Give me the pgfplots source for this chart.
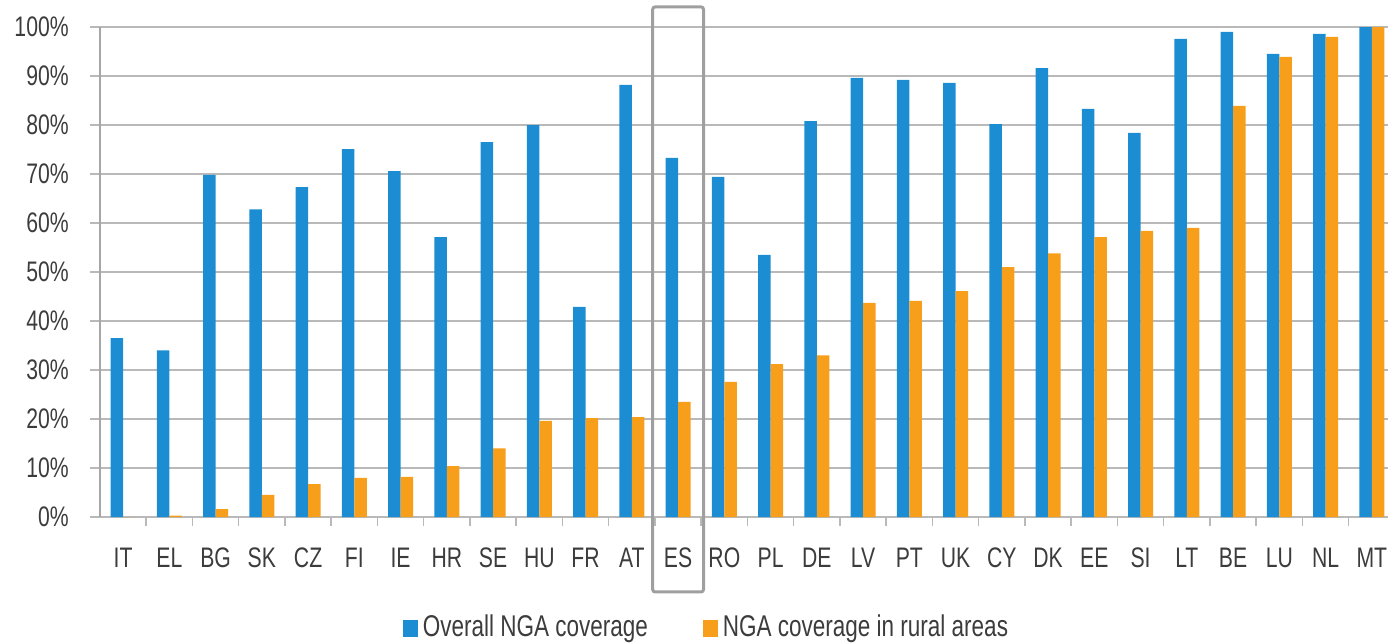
\documentclass[border=0pt]{standalone}
\usepackage{fontspec}
\setmainfont{Liberation Sans}[FakeStretch=0.75]
\usepackage{pgfplots}
\usepackage{pgfplotstable}
\pgfplotsset{compat=1.18}
\usetikzlibrary{calc}

\definecolor{ngablue}{RGB}{28,141,210}
\definecolor{ngaorange}{RGB}{247,158,27}
\definecolor{gridgray}{RGB}{185,185,185}
\definecolor{txtgray}{RGB}{60,60,60}

%% NGA coverage, overall vs rural (%)
\pgfplotstableread{
cc overall rural
IT 36.5 0
EL 34.0 0.3
BG 69.8 1.6
SK 62.8 4.5
CZ 67.3 6.7
FI 75.1 8.0
IE 70.6 8.2
HR 57.1 10.4
SE 76.5 14.0
HU 80.0 19.6
FR 42.9 20.2
AT 88.2 20.4
ES 73.3 23.5
RO 69.4 27.6
PL 53.5 31.2
DE 80.8 33.0
LV 89.6 43.7
PT 89.2 44.1
UK 88.6 46.1
CY 80.2 51.0
DK 91.6 53.8
EE 83.3 57.1
SI 78.4 58.4
LT 97.6 59.0
BE 99.0 83.9
LU 94.5 93.9
NL 98.6 98.0
MT 100 100
}\ngadata

\begin{document}
\begin{tikzpicture}
\begin{axis}[
  name=ax,
  scale only axis,
  width=515.2pt, height=196pt,
  xmin=-0.5, xmax=27.35,
  ymin=0, ymax=100,
  ybar, bar width=0.27,
  clip=false,
  axis lines=left,
  axis line style={-},
  x axis line style={draw=gridgray, line width=0.8pt},
  y axis line style={draw=gray!70, line width=0.8pt},
  tick align=outside,
  major tick length=4pt,
  minor tick length=3.5pt,
  xtick={0,...,27},
  xticklabels from table={\ngadata}{cc},
  every major x tick/.append style={draw=none},
  minor xtick={0.5,1.5,...,26.5},
  every minor x tick/.append style={draw=gray!55, line width=0.6pt},
  ytick={0,10,...,100},
  yticklabels={0\%,10\%,20\%,30\%,40\%,50\%,60\%,70\%,80\%,90\%,100\%},
  ytick style={draw=gridgray, line width=0.8pt},
  ymajorgrids,
  grid style={draw=gridgray, line width=0.8pt},
  ticklabel style={font=\fontsize{11.3}{13}\selectfont, text=txtgray},
  xticklabel style={yshift=-4.7pt},
  yticklabel style={xshift=-5pt},
  legend style={at={(0.472,-0.2265)}, anchor=center, draw=none, fill=none,
    legend columns=2, font=\fontsize{12}{14}\selectfont, text=txtgray,
    /tikz/every even column/.append style={column sep=20pt}},
  legend cell align=left,
  legend image code/.code={\fill[#1] (0pt,-3.5pt) rectangle (6pt,3.2pt);},
]
\addplot[fill=ngablue, draw=none, bar shift=-0.135]
  table[x expr=\coordindex, y=overall] {\ngadata};
\addlegendentry{Overall NGA coverage}
\addplot[fill=ngaorange, draw=none, bar shift=0.135]
  table[x expr=\coordindex, y=rural] {\ngadata};
\addlegendentry{NGA coverage in rural areas}
\draw[gray!75, line width=1.2pt, rounded corners=1pt]
  (axis cs:11.45,-15.3) rectangle (axis cs:12.55,104.1);
\end{axis}
\pgfresetboundingbox
\path ($(ax.south west)+(-40pt,-50.4pt)$) rectangle ($(ax.north east)+(0pt,10.8pt)$);
\end{tikzpicture}
\end{document}
